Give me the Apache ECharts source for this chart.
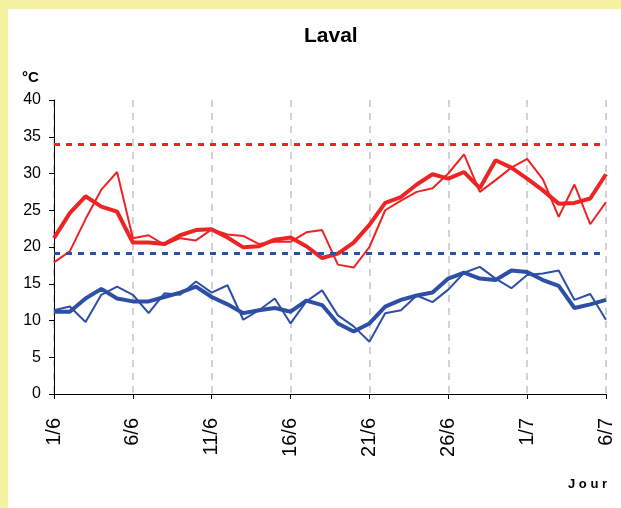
<!DOCTYPE html>
<html>
<head>
<meta charset="utf-8">
<script src="https://cdn.jsdelivr.net/npm/echarts@6/dist/echarts.min.js"></script>
<style>
  html, body { margin: 0; padding: 0; background: #f4f1a0; }
  #chart { position: absolute; left: 8px; top: 9px; width: 613px; height: 499px; background: #ffffff; }
</style>
</head>
<body>
<div id="chart"></div>
<script>
// jours du 1/6 au 6/7
var jours = [];
for (var d = 1; d <= 30; d++) { jours.push(d + '/6'); }
for (var d2 = 1; d2 <= 6; d2++) { jours.push(d2 + '/7'); }

// températures maximales (trait fin = observé, trait épais = lissé)
var tmaxObs = [17.9, 19.4, 23.8, 27.8, 30.2, 21.2, 21.6, 20.3, 21.2, 20.9, 22.4, 21.7,
               21.5, 20.4, 20.7, 20.7, 22.0, 22.3, 17.6, 17.2, 20.0, 25.0, 26.3, 27.5,
               28.0, 30.0, 32.6, 27.5, 29.1, 30.8, 32.0, 29.2, 24.1, 28.5, 23.1, 26.1];
var tmaxLisse = [21.2, 24.6, 26.9, 25.5, 24.8, 20.6, 20.6, 20.4, 21.6, 22.3, 22.4, 21.3,
                 19.95, 20.1, 21.0, 21.3, 20.1, 18.5, 19.1, 20.6, 23.0, 26.0, 26.8, 28.5,
                 29.9, 29.3, 30.2, 28.0, 31.8, 30.8, 29.3, 27.7, 25.9, 26.0, 26.6, 29.9];

// températures minimales
var tminObs = [11.4, 11.9, 9.8, 13.5, 14.6, 13.5, 11.0, 13.7, 13.5, 15.3, 13.8, 14.8,
               10.1, 11.4, 13.0, 9.6, 12.6, 14.1, 10.7, 9.2, 7.1, 11.0, 11.4, 13.4,
               12.5, 14.2, 16.5, 17.3, 15.7, 14.4, 16.2, 16.4, 16.8, 12.8, 13.6, 10.1];
var tminLisse = [11.2, 11.2, 13.0, 14.3, 13.0, 12.6, 12.6, 13.2, 13.8, 14.6, 13.2, 12.2,
                 11.0, 11.4, 11.7, 11.2, 12.7, 12.1, 9.6, 8.5, 9.6, 11.9, 12.8, 13.4,
                 13.8, 15.7, 16.5, 15.7, 15.5, 16.8, 16.6, 15.5, 14.7, 11.7, 12.2, 12.8];

// seuils
var seuilHaut = 34;
var seuilBas = 19.2;

var rouge = '#ee2424';
var bleu = '#2d4fa6';
var police = '"Liberation Sans", Arial';

var chart = echarts.init(document.getElementById('chart'));

var seuil = function(val, couleur){
    return {
        silent: true,
        symbol: ['none', 'none'],
        label: {show: false},
        lineStyle: {color: couleur, type: [6, 6], width: 3},
        data: [[{coord: [0, val]}, {coord: [jours.length - 1, val]}]]
    };
};

var serie = function(nom, data, couleur, epaisseur, ml){
    var s = {
        name: nom,
        type: 'line',
        data: data,
        symbol: 'none',
        lineStyle: {color: couleur, width: epaisseur},
        itemStyle: {color: couleur},
        animation: false
    };
    if (ml) { s.markLine = ml; }
    return s;
};

chart.setOption({
    animation: false,
    grid: {left: 46, right: 15, top: 91, bottom: 114},
    graphic: [
        {type: 'text', left: 296, top: 17, style: {text: 'Laval', font: 'bold 21px ' + police, fill: '#000'}},
        {type: 'text', left: 14, top: 61, style: {text: '°C', font: 'bold 15px ' + police, fill: '#000'}},
        {type: 'text', left: 560, top: 469, style: {text: 'J o u r', font: 'bold 13px ' + police, fill: '#000'}}
    ],
    xAxis: {
        type: 'category',
        data: jours,
        boundaryGap: false,
        axisLine: {lineStyle: {color: '#000', width: 1}},
        axisTick: {show: true, interval: 4, length: 5, lineStyle: {color: '#000'}},
        axisLabel: {interval: 4, rotate: 90, color: '#000', fontSize: 20, fontFamily: police, margin: 24},
        splitLine: {show: true, interval: 4, lineStyle: {color: '#c4c4c4', type: [7, 6], width: 1.5}}
    },
    yAxis: {
        type: 'value',
        min: 0,
        max: 40,
        interval: 5,
        axisLine: {show: true, lineStyle: {color: '#000', width: 1}},
        axisTick: {show: true, length: 5, lineStyle: {color: '#000'}},
        axisLabel: {color: '#000', fontSize: 16, fontFamily: police, margin: 13},
        splitLine: {show: false}
    },
    series: [
        serie('Tmax', tmaxObs, rouge, 2, seuil(seuilHaut, rouge)),
        serie('Tmax lissée', tmaxLisse, rouge, 4),
        serie('Tmin', tminObs, bleu, 2, seuil(seuilBas, bleu)),
        serie('Tmin lissée', tminLisse, bleu, 4)
    ]
});
</script>
</body>
</html>
